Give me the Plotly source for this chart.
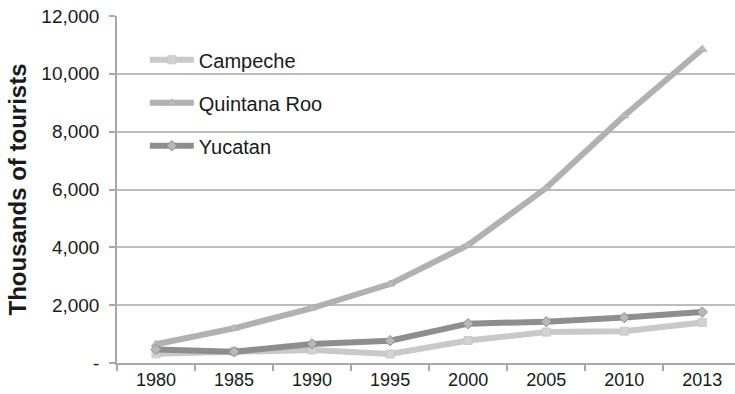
import plotly.graph_objects as go

# Tourist arrivals (thousands) by state
years = ["1980", "1985", "1990", "1995", "2000", "2005", "2010", "2013"]
campeche = [320, 400, 450, 310, 780, 1070, 1100, 1400]
quintana_roo = [650, 1200, 1900, 2730, 4080, 6050, 8550, 10850]
yucatan = [470, 390, 660, 770, 1360, 1430, 1570, 1760]

y_ticks = [0, 2000, 4000, 6000, 8000, 10000, 12000]
y_tick_labels = ["-", "2,000", "4,000", "6,000", "8,000", "10,000", "12,000"]

series = [
    ("Campeche", campeche, "#c9c9c9", "#d3d3d3", "square"),
    ("Quintana Roo", quintana_roo, "#b1b1b1", "#bababa", "triangle-up"),
    ("Yucatan", yucatan, "#8e8e8e", "#b8b8b8", "diamond"),
]

fig = go.Figure()
for name, vals, line_col, fill_col, sym in series:
    fig.add_trace(go.Scatter(
        x=years, y=vals, name=name, mode="lines+markers",
        legendgroup=name,
        line=dict(color=line_col, width=6),
        marker=dict(symbol=sym, size=8, color=fill_col,
                    line=dict(color=line_col, width=1)),
    ))

fig.update_layout(
    width=735, height=394,
    margin=dict(l=117, r=0, t=16, b=31),
    paper_bgcolor="white", plot_bgcolor="white",
    font=dict(family="Liberation Sans, Arial, sans-serif", color="#1a1a1a"),
    showlegend=True,
    legend=dict(x=0.045, y=0.93, xanchor="left", yanchor="top",
                font=dict(size=20, color="#1a1a1a"),
                tracegroupgap=14, itemwidth=44,
                bgcolor="rgba(0,0,0,0)"),
)

fig.update_xaxes(
    type="category", range=[-0.5, 7.42],
    tickson="boundaries", ticks="outside", ticklen=6, tickcolor="#a8a8a8",
    tickwidth=1.5,
    showline=True, linecolor="#a8a8a8", linewidth=1.5,
    showgrid=False,
    tickfont=dict(size=18, color="#1a1a1a"),
)
fig.update_yaxes(
    range=[0, 12000], tickvals=y_ticks, ticktext=y_tick_labels,
    ticks="outside", ticklen=6, tickcolor="#a8a8a8", tickwidth=1.5,
    ticklabelstandoff=6,
    showline=True, linecolor="#a8a8a8", linewidth=1.5,
    showgrid=True, gridcolor="#bdbdbd", gridwidth=1.5,
    zeroline=False,
    tickfont=dict(size=19, color="#1a1a1a"),
    title=dict(text="<b>Thousands of tourists</b>", font=dict(size=24, color="#1a1a1a"),
               standoff=8),
)

fig.write_html("out.html")
